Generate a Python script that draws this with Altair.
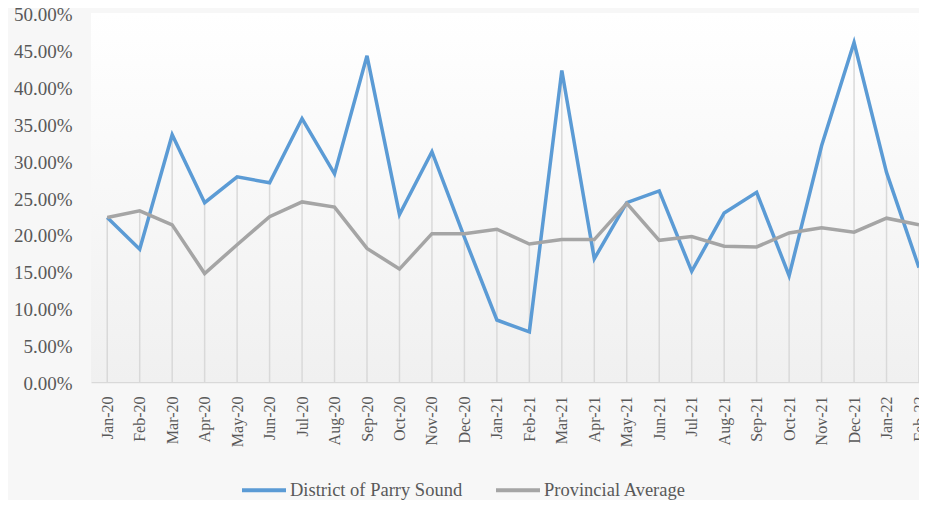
import altair as alt
import pandas as pd

months = ["Jan-20", "Feb-20", "Mar-20", "Apr-20", "May-20", "Jun-20", "Jul-20",
          "Aug-20", "Sep-20", "Oct-20", "Nov-20", "Dec-20", "Jan-21", "Feb-21",
          "Mar-21", "Apr-21", "May-21", "Jun-21", "Jul-21", "Aug-21", "Sep-21",
          "Oct-21", "Nov-21", "Dec-21", "Jan-22", "Feb-22"]
district = [22.3, 18.0, 33.5, 24.3, 27.8, 27.0, 35.7, 28.2, 44.2, 22.7, 31.2, 19.6,
            8.4, 6.8, 42.2, 16.7, 24.3, 25.9, 15.0, 22.9, 25.7, 14.4, 32.0, 46.0,
            28.4, 15.5]
provincial = [22.3, 23.2, 21.3, 14.7, 18.6, 22.4, 24.4, 23.7, 18.1, 15.3, 20.1, 20.1,
              20.7, 18.7, 19.3, 19.3, 24.2, 19.2, 19.7, 18.4, 18.3, 20.2, 20.9, 20.3,
              22.2, 21.3]
series_names = ["District of Parry Sound", "Provincial Average"]
series_colors = ["#5B9BD5", "#A5A5A5"]
y_ticks = [0, 0.05, 0.10, 0.15, 0.20, 0.25, 0.30, 0.35, 0.40, 0.45, 0.50]

rows = []
for m, d, p in zip(months, district, provincial):
    rows.append({"month": m, "series": series_names[0], "value": d / 100})
    rows.append({"month": m, "series": series_names[1], "value": p / 100})
df = pd.DataFrame(rows)
drop = pd.DataFrame({"month": months,
                     "top": [max(d, p) / 100 for d, p in zip(district, provincial)]})

W, H = 828, 369
FONT = "Liberation Serif"
TXT = "#595959"

xscale = alt.Scale(type="point", domain=months, padding=0.25, align=1)
yscale = alt.Scale(domain=[0, 0.5])

x_axis = alt.Axis(title=None, labelAngle=270, labelFont=FONT, labelFontSize=16,
                  labelColor=TXT, ticks=False, domainColor="#d9d9d9",
                  domainWidth=1.5, labelPadding=14, grid=False, labelOverlap=False)
y_axis = alt.Axis(title=None, format=".2%", values=y_ticks,
                  labelFont=FONT, labelFontSize=19, labelColor=TXT,
                  labelBaseline="alphabetic", labelOffset=7.5,
                  labelOverlap=False, labelBound=False,
                  ticks=False, domain=False, grid=False, labelPadding=19)

bg = alt.Chart(pd.DataFrame({"a": [0]})).mark_rect(
    color=alt.LinearGradient(
        gradient="linear", x1=0, y1=0, x2=0, y2=1,
        stops=[alt.GradientStop(color="#ffffff", offset=0),
               alt.GradientStop(color="#f0f0f0", offset=1)])
).encode(x=alt.value(0), x2=alt.value(W), y=alt.value(0), y2=alt.value(H))

drops = alt.Chart(drop).mark_rule(color="#d9d9d9", strokeWidth=1.5).encode(
    x=alt.X("month:N", scale=xscale, sort=months, axis=x_axis),
    y=alt.Y("top:Q", scale=yscale, axis=y_axis),
    y2=alt.datum(0),
)

lines = alt.Chart(df).mark_line(strokeWidth=3.5).encode(
    x=alt.X("month:N", scale=xscale, sort=months, axis=x_axis),
    y=alt.Y("value:Q", scale=yscale, axis=y_axis),
    color=alt.Color("series:N", scale=alt.Scale(domain=series_names, range=series_colors),
                    legend=alt.Legend(title=None, orient="none", direction="horizontal",
                                      legendX=149, legendY=453, symbolType="stroke",
                                      symbolSize=1936, symbolStrokeWidth=4,
                                      labelFont=FONT, labelFontSize=18.5, labelColor=TXT,
                                      labelLimit=500, labelOffset=2, columnPadding=25)),
    detail="series:N",
)

chart = alt.layer(bg, drops, lines).properties(
    width=W, height=H,
    background="#f7f7f7",
    autosize=alt.AutoSizeParams(type="none"),
    padding={"left": 83, "top": 5, "right": 0, "bottom": 118},
).configure_view(stroke=None)

chart.save("out.html", embed_options={"renderer": "svg", "actions": False})
